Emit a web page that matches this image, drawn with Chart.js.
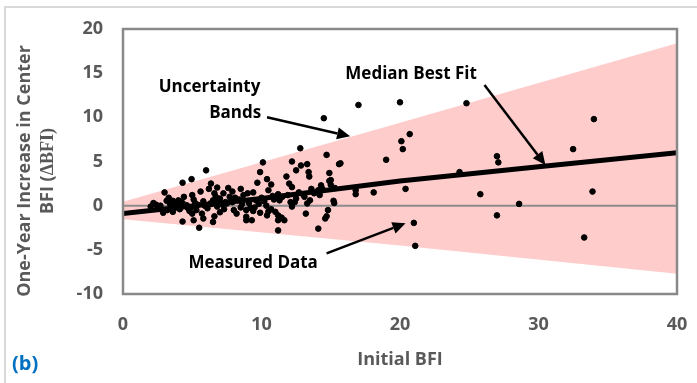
<!DOCTYPE html>
<html>
<head>
<meta charset="utf-8">
<script src="https://cdn.jsdelivr.net/npm/chart.js@4"></script>
<style>
  html, body { margin: 0; padding: 0; background: #fff; }
  #wrap { position: relative; width: 697px; height: 383px; overflow: hidden; }
  #frame { position: absolute; left: 4px; top: 6px; right: -2px; bottom: -2px;
           border-top: 2px solid #d9d9d9; border-left: 2px solid #d9d9d9; }
  #tag { position: absolute; left: 12px; top: 349px; font: bold 20px "Open Sans", sans-serif; color: #0070c0; }
  canvas { position: absolute; left: 0; top: 0; }
</style>
</head>
<body>
<div id="wrap">
  <div id="frame"></div>
  <canvas id="bfiChart" width="697" height="383"></canvas>
  <div id="tag">(b)</div>
</div>
<script>
// valeurs
const initialBfi = [
  17.0, 20.0, 14.5, 20.7, 20.1, 20.2, 12.8, 14.7, 19.0, 15.6, 12.2, 12.5, 12.85, 13.3, 13.4, 13.45, 14.9, 15.0,
  24.8, 34.0, 32.5, 27.0, 27.1, 24.3, 25.8, 28.6, 27.0, 33.9, 33.3, 16.8, 16.8, 18.1, 20.4, 21.0, 21.1, 15.7,
  10.1, 9.9, 11.8, 9.7, 10.4, 10.7, 10.5, 12.0, 12.2, 14.9, 15.0, 15.3, 14.1, 11.2, 9.0, 9.4, 13.1, 15.2, 15.25,
  12.1, 12.4, 12.2, 13.3, 9.2, 9.9, 9.4, 10.35, 10.5, 10.4, 10.7, 11.0, 11.2, 11.45, 11.2, 11.65, 13.2, 14.8,
  14.7, 14.6, 11.2, 14.1, 9.3, 8.9,
  6.0, 4.3, 4.95, 3.0, 6.35, 6.8, 7.6, 8.5, 6.6, 7.25, 5.0, 8.7, 2.2, 3.15, 3.6, 4.3, 5.1, 5.8, 7.0, 7.7, 8.3,
  2.7, 3.6, 4.6, 6.3, 6.8, 7.5, 3.6, 4.8, 5.7, 7.0, 8.0, 4.3, 5.1, 5.5, 5.8, 6.5, 6.6, 8.2, 8.9, 8.9,
  2.5, 3.2, 3.9, 4.1, 4.9, 5.4, 5.3, 6.1, 6.5, 7.2, 7.9, 8.6, 9.6, 10.0, 10.9, 11.5, 12.7, 13.6, 14.3,
  2.0, 4.4, 5.6, 6.2, 7.9, 3.3, 2.9, 14.4,
  2.4, 2.8, 3.4, 3.8, 4.2, 4.7, 5.2, 5.9, 6.4, 6.9, 7.4, 8.1, 8.5, 9.1, 9.8, 10.2, 10.8, 11.3, 12.5, 13.0,
  13.8, 14.2, 4.0, 5.0, 6.7, 7.3, 8.4, 9.5, 11.9, 13.5
];
const deltaBfi = [
  11.4, 11.7, 9.9, 8.1, 7.3, 6.4, 6.5, 5.75, 5.2, 4.7, 5.0, 4.0, 4.55, 4.7, 3.8, 3.3, 3.7, 2.9,
  11.6, 9.8, 6.4, 5.6, 4.9, 3.8, 1.3, 0.2, -1.1, 1.6, -3.6, 1.75, 1.3, 1.5, 1.9, -1.95, -4.55, 4.8,
  4.9, 3.8, 3.3, 2.6, 3.0, 2.4, 1.75, 2.5, 2.1, 2.8, 2.35, 2.0, 1.75, 1.3, 1.4, 1.5, 1.0, 0.55, 0.3,
  0.4, 0.4, -0.1, 0.25, -0.25, -0.8, -0.6, 0.0, -0.65, -1.1, -0.4, -0.7, -1.1, -1.35, -1.65, -1.65, -0.9, -0.5,
  -1.2, -1.45, -2.8, -2.6, -1.65, -1.25,
  4.0, 2.6, 3.0, 1.5, 2.5, 2.05, 2.0, 1.9, 1.4, 1.4, 1.2, 1.2, 0.3, 0.55, 0.55, 0.3, 0.7, 0.5, 0.8, 1.0, 0.6,
  0.0, -0.1, 0.05, 0.25, -0.1, 0.25, -0.7, -0.6, -0.9, -0.75, -0.5, -1.8, -1.65, -2.5, -1.45, -1.85, -1.2, -0.9, -0.5, -1.65,
  -0.3, -0.5, 0.2, -0.4, -0.2, 0.1, -0.5, -0.3, 0.6, 0.1, 0.4, 0.2, 0.6, 0.9, 0.7, 1.0, 1.5, 1.9, 2.3,
  -0.1, 1.0, 1.6, 1.9, 1.6, 0.9, -0.8, 1.9,
  0.1, -0.4, 0.2, -0.2, 0.4, -0.3, 0.3, 0.0, 0.2, 0.5, 0.4, 0.9, -0.2, 0.3, 0.2, 0.5, 1.1, 0.6, 0.8, 1.3,
  1.4, 1.2, 0.6, -0.9, 1.0, -0.4, 0.7, -0.2, 1.2, 0.6
];

const fitX = [0, 10, 20, 30, 40];
const fitY = [-0.9, 0.8, 2.8, 4.4, 6.0];

const bandX = [0, 20, 40];
const bandUpper = [0.45, 9.4, 18.4];
const bandLower = [-1.55, -4.5, -7.7];

const zeroX = [0, 40];
const zeroY = [0, 0];

const xTicks = [0, 10, 20, 30, 40];
const yTicks = [-10, -5, 0, 5, 10, 15, 20];

const toPoints = (xs, ys) => xs.map((x, i) => ({ x: x, y: ys[i] }));

const GREY = '#595959';
const FONT = '"Open Sans", sans-serif';

// cadre, flèches et textes
const decorPlugin = {
    id: 'decor',
    afterDatasetsDraw(chart) {
        const { ctx, chartArea: a } = chart;
        ctx.save();
        ctx.strokeStyle = '#898989';
        ctx.lineWidth = 2.5;
        ctx.strokeRect(a.left, a.top, a.right - a.left, a.bottom - a.top);
        ctx.restore();
    },
    afterDraw(chart) {
        const { ctx, scales: { x, y }, chartArea: a } = chart;
        const px = v => x.getPixelForValue(v);
        const py = v => y.getPixelForValue(v);

        ctx.save();
        ctx.fillStyle = '#000';
        ctx.textAlign = 'center';
        ctx.textBaseline = 'middle';
        ctx.font = 'bold 17px ' + FONT;
        const labels = [
            ['Uncertainty', 6.25, 13.4],
            ['Bands', 8.1, 10.5],
            ['Median Best Fit', 20.8, 14.9],
            ['Measured Data', 9.4, -6.5]
        ];
        labels.forEach(l => ctx.fillText(l[0], px(l[1]), py(l[2])));

        const arrows = [
            [10.4, 10.0, 16.4, 7.85],
            [26.1, 13.65, 30.5, 4.6],
            [14.7, -5.4, 20.4, -2.0]
        ];
        arrows.forEach(r => {
            const x1 = px(r[0]), y1 = py(r[1]), x2 = px(r[2]), y2 = py(r[3]);
            const ang = Math.atan2(y2 - y1, x2 - x1);
            const len = 13, half = 6;
            const bx = x2 - len * Math.cos(ang), by = y2 - len * Math.sin(ang);
            ctx.strokeStyle = '#000';
            ctx.lineWidth = 2.5;
            ctx.beginPath();
            ctx.moveTo(x1, y1);
            ctx.lineTo(bx, by);
            ctx.stroke();
            ctx.beginPath();
            ctx.moveTo(x2, y2);
            ctx.lineTo(bx + half * Math.sin(ang), by - half * Math.cos(ang));
            ctx.lineTo(bx - half * Math.sin(ang), by + half * Math.cos(ang));
            ctx.closePath();
            ctx.fill();
        });

        // titres des axes
        ctx.fillStyle = GREY;
        ctx.font = 'bold 18px ' + FONT;
        ctx.fillText('Initial BFI', (a.left + a.right) / 2, 360);

        ctx.translate(0, 171);
        ctx.rotate(-Math.PI / 2);
        ctx.font = 'bold 18px ' + FONT;
        ctx.fillText('One-Year Increase in Center', 0, 25);
        const p1 = 'BFI (', p2 = '\u0394BFI)';
        const sansF = 'bold 18px ' + FONT, serifF = 'bold 18px "Liberation Serif", serif';
        ctx.font = sansF;
        const w1 = ctx.measureText(p1).width;
        ctx.font = serifF;
        const w2 = ctx.measureText(p2).width;
        ctx.textAlign = 'left';
        ctx.font = sansF;
        ctx.fillText(p1, -(w1 + w2) / 2, 48);
        ctx.font = serifF;
        ctx.fillText(p2, -(w1 + w2) / 2 + w1, 48);
        ctx.restore();
    }
};

const ctx = document.getElementById('bfiChart').getContext('2d');
new Chart(ctx, {
    type: 'scatter',
    data: {
        datasets: [
            {
                label: 'Measured Data',
                data: toPoints(initialBfi, deltaBfi),
                backgroundColor: '#000',
                borderColor: '#000',
                pointRadius: 2.8,
                pointHoverRadius: 2.8
            },
            {
                label: 'Median Best Fit',
                data: toPoints(fitX, fitY),
                showLine: true,
                borderColor: '#000',
                borderWidth: 5,
                pointRadius: 0,
                fill: false
            },
            {
                label: 'zero',
                data: toPoints(zeroX, zeroY),
                showLine: true,
                borderColor: '#8c8c8c',
                borderWidth: 2,
                pointRadius: 0,
                fill: false
            },
            {
                label: 'Uncertainty upper',
                data: toPoints(bandX, bandUpper),
                showLine: true,
                borderWidth: 0,
                borderColor: 'rgba(0,0,0,0)',
                pointRadius: 0,
                backgroundColor: '#ffcccc',
                fill: '+1'
            },
            {
                label: 'Uncertainty lower',
                data: toPoints(bandX, bandLower),
                showLine: true,
                borderWidth: 0,
                borderColor: 'rgba(0,0,0,0)',
                pointRadius: 0,
                fill: false
            }
        ]
    },
    options: {
        responsive: false,
        animation: false,
        events: [],
        layout: { padding: { top: 29, right: 20, left: 0, bottom: 0 } },
        scales: {
            x: {
                type: 'linear',
                min: 0, max: 40,
                afterFit: s => { s.height = 89; s.paddingLeft = 0; s.paddingRight = 0; },
                afterBuildTicks: s => { s.ticks = xTicks.map(v => ({ value: v })); },
                grid: { display: false, drawTicks: false },
                border: { display: false },
                ticks: { color: GREY, font: { family: FONT, size: 18, weight: 'bold' }, padding: 20 }
            },
            y: {
                min: -10, max: 20,
                afterFit: s => { s.width = 123; s.paddingTop = 0; s.paddingBottom = 0; },
                afterBuildTicks: s => { s.ticks = yTicks.map(v => ({ value: v })); },
                grid: { display: false, drawTicks: false },
                border: { display: false },
                ticks: { color: GREY, font: { family: FONT, size: 18, weight: 'bold' }, padding: 20 }
            }
        },
        plugins: {
            legend: { display: false },
            tooltip: { enabled: false }
        }
    },
    plugins: [decorPlugin]
});
</script>
</body>
</html>
